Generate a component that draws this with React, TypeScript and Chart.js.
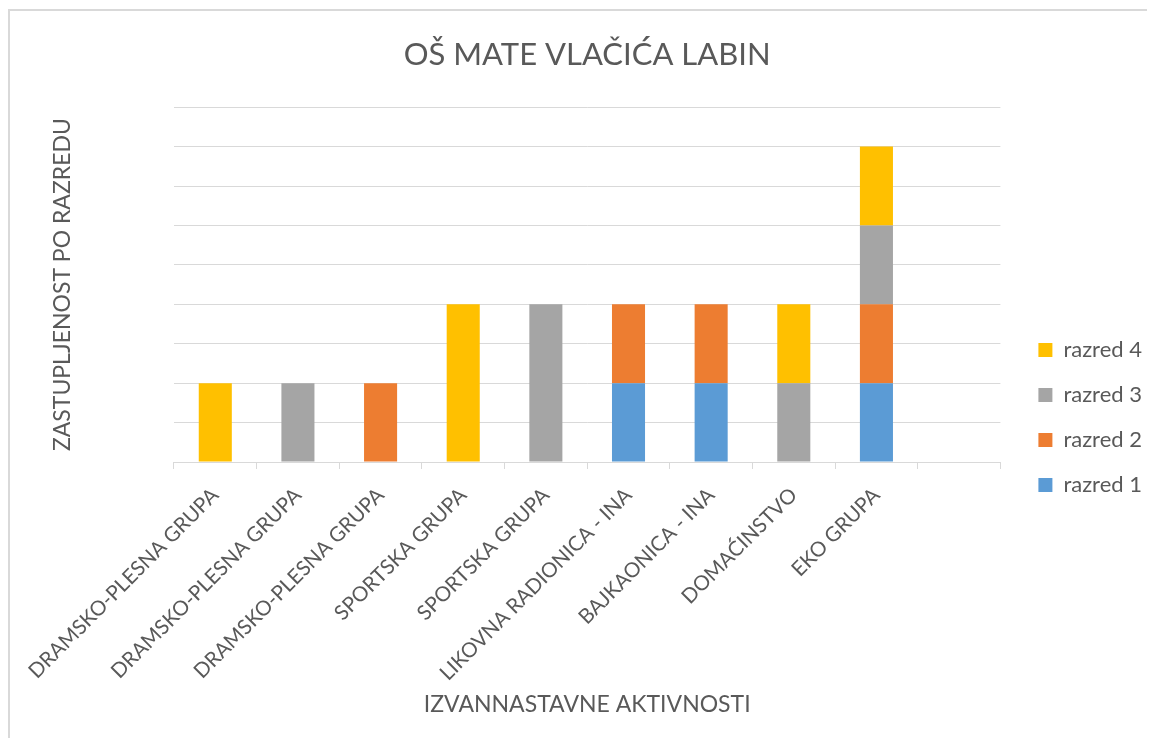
import { useEffect, useRef } from 'react';
import { Chart, registerables } from 'chart.js';

Chart.register(...registerables);

// ---- data ----
const categories = [
  'DRAMSKO-PLESNA GRUPA',
  'DRAMSKO-PLESNA GRUPA',
  'DRAMSKO-PLESNA GRUPA',
  'SPORTSKA GRUPA',
  'SPORTSKA GRUPA',
  'LIKOVNA RADIONICA - INA',
  'BAJKAONICA - INA',
  'DOMAĆINSTVO',
  'EKO GRUPA',
  '',
];
const razred1 = [0, 0, 0, 0, 0, 1, 1, 0, 1, 0];
const razred2 = [0, 0, 1, 0, 0, 1, 1, 0, 1, 0];
const razred3 = [0, 1, 0, 0, 2, 0, 0, 1, 1, 0];
const razred4 = [1, 0, 0, 2, 0, 0, 0, 1, 1, 0];
const seriesNames = ['razred 1', 'razred 2', 'razred 3', 'razred 4'];
const yMin = 0;
const yMax = 4.5;
const yStep = 0.5;
const chartTitle = 'OŠ MATE VLAČIĆA LABIN';
const xTitle = 'IZVANNASTAVNE AKTIVNOSTI';
const yTitle = 'ZASTUPLJENOST PO RAZREDU';

// ---- styles ----
const FONT = 'Lato, "Open Sans", sans-serif';
const TEXT = '#595959';
const GRID = '#D9D9D9';
const COLORS = ['#5B9BD5', '#ED7D31', '#A5A5A5', '#FFC000'];

export default function App() {
  const ref = useRef<HTMLCanvasElement>(null);

  useEffect(() => {
    if (!ref.current) return;
    const series = [razred1, razred2, razred3, razred4];
    const chart = new Chart(ref.current, {
      type: 'bar',
      data: {
        labels: categories,
        datasets: series.map((values, i) => ({
          label: seriesNames[i],
          data: values,
          backgroundColor: COLORS[i],
          borderWidth: 0,
          barPercentage: 0.4,
          categoryPercentage: 1,
        })),
      },
      options: {
        responsive: false,
        animation: false,
        layout: { padding: { left: 0, right: 8, top: 0, bottom: 0 } },
        plugins: {
          tooltip: { enabled: false },
          title: {
            display: true,
            text: chartTitle,
            fullSize: false,
            color: TEXT,
            font: { family: FONT, size: 31, weight: 'normal' },
            padding: { top: 25, bottom: 34 },
          },
          legend: {
            position: 'right',
            align: 'center',
            reverse: true,
            labels: {
              boxWidth: 14,
              boxHeight: 14,
              padding: 23,
              color: TEXT,
              font: { family: FONT, size: 22 },
            },
            title: {
              display: true,
              text: ' ',
              font: { family: FONT, size: 12 },
              padding: { top: 0, bottom: 70.6 },
            },
          },
        },
        scales: {
          x: {
            stacked: true,
            offset: true,
            grid: {
              drawOnChartArea: false,
              drawTicks: true,
              tickLength: 7,
              color: GRID,
              offset: true,
            },
            border: { display: true, color: GRID },
            ticks: {
              autoSkip: false,
              minRotation: 45,
              maxRotation: 45,
              padding: 14,
              color: TEXT,
              font: { family: FONT, size: 20.6 },
            },
            title: {
              display: true,
              text: xTitle,
              color: TEXT,
              font: { family: FONT, size: 23 },
              padding: { top: 0, bottom: 21 },
            },
            afterFit: (s: any) => {
              s.height = 277;
            },
          },
          y: {
            stacked: true,
            min: yMin,
            max: yMax,
            ticks: { display: false, stepSize: yStep },
            grid: { color: GRID, drawTicks: false },
            border: { display: false },
            title: {
              display: true,
              text: yTitle,
              color: TEXT,
              font: { family: FONT, size: 23 },
              padding: { top: 37, bottom: 0 },
            },
            afterFit: (s: any) => {
              s.width = 162;
            },
          },
          spacer: {
            type: 'linear',
            position: 'right',
            display: true,
            grid: { display: false },
            ticks: { display: false },
            border: { display: false },
            afterFit: (s: any) => {
              s.width = 15;
            },
          },
        },
      } as any,
    });
    return () => chart.destroy();
  }, []);

  return (
    <div
      style={{
        position: 'relative',
        top: 1,
        width: 1147,
        height: 730,
        boxSizing: 'border-box',
        borderTop: '2px solid #D9D9D9',
        borderLeft: '2px solid #D9D9D9',
        overflow: 'hidden',
        background: '#ffffff',
      }}
    >
      <canvas ref={ref} width={1150} height={728} style={{ display: 'block' }} />
    </div>
  );
}
